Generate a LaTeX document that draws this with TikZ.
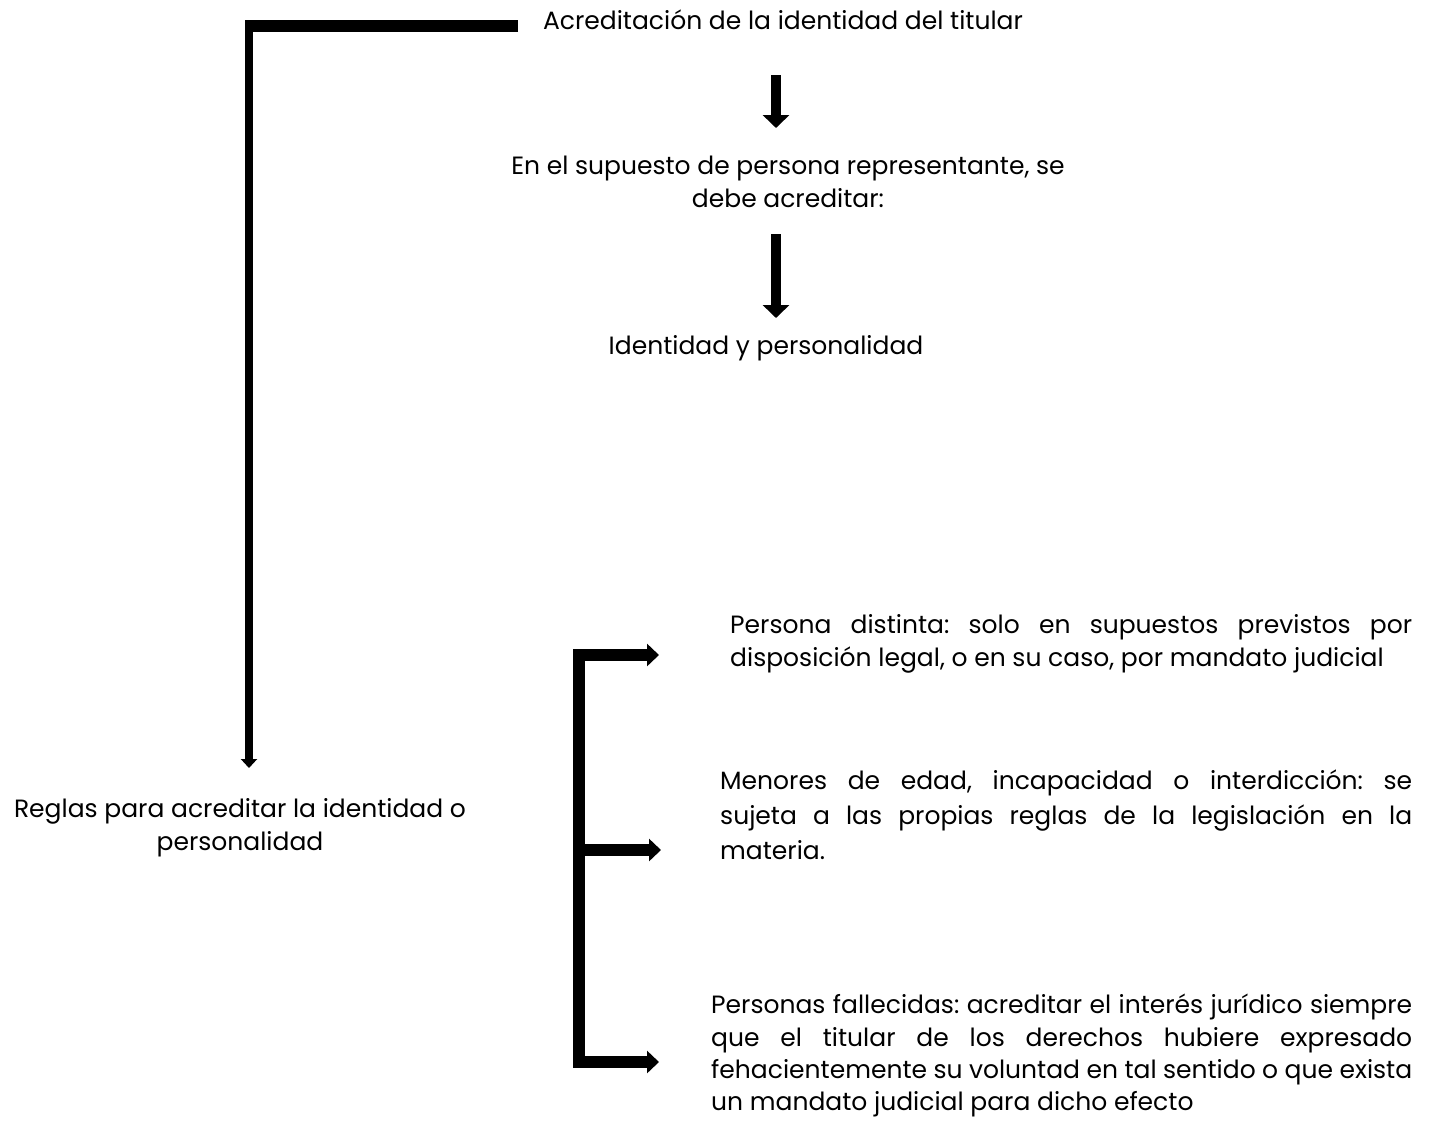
\documentclass[tikz,border=0pt]{standalone}
\usepackage{fontspec}
\setmainfont{Poppins}
\usetikzlibrary{arrows.meta}
\frenchspacing
\begin{document}
\begin{tikzpicture}[x=1pt,y=-1pt,
  txt/.style={inner sep=0pt,font=\fontsize{25}{33}\selectfont},
  para/.style={txt,align=justify,anchor=north west},
  bar/.style={line width=#1},
  bigarrow/.style={line width=10pt,-{Triangle[width=26pt,length=13pt]}},
  brarrow/.style={line width=12pt,-{Triangle[width=22pt,length=12pt]}},
  thinarrow/.style={line width=8.5pt,-{Triangle[width=16pt,length=9pt]}}]
\useasboundingbox (0,0) rectangle (1437,1120);
% top column
\node[txt] (acr) at (783,20) {Acreditación de la identidad del titular};
\node[txt,align=center] (sup) at (788,182) {En el supuesto de persona representante, se\\debe acreditar:};
\node[txt] (idp) at (766,348) {Identidad y personalidad};
\coordinate (a1s) at (776,75);
\coordinate (a1e) at (776,128);
\coordinate (a2s) at (776,234);
\coordinate (a2e) at (776,318);
\draw[bigarrow] (a1s) -- (a1e);
\draw[bigarrow] (a2s) -- (a2e);
% left rule
\node[txt,align=center] (reg) at (240,828) {Reglas para acreditar la identidad o\\personalidad};
\coordinate (h0) at (518,26);
\coordinate (corner) at (249,26);
\coordinate (regtip) at (249,768);
\draw[bar=12pt] (h0) -- ([xshift=-4.5pt]corner);
\draw[thinarrow] ([yshift=-6pt]corner) -- (regtip);
% bracket
\coordinate (bt) at (579,655);
\coordinate (bm) at (579,850);
\coordinate (bb) at (579,1062);
\draw[bar=12pt] ([yshift=-6pt]bt) -- ([yshift=6pt]bb);
\coordinate (t1) at (659,655);
\coordinate (t2) at (661,850);
\coordinate (t3) at (659,1062);
\draw[brarrow] ([xshift=-6pt]bt) -- (t1);
\draw[brarrow] ([xshift=-6pt]bm) -- (t2);
\draw[brarrow] ([xshift=-6pt]bb) -- (t3);
% right texts
\node[para,text width=682pt] (p1) at (730,614) {Persona distinta: solo en supuestos previstos por\linebreak disposición legal, o en su caso, por mandato judicial};
\node[para,text width=692pt,font=\fontsize{25}{35}\selectfont] (p2) at (720,770) {Menores de edad, incapacidad o interdicción: se\linebreak sujeta a las propias reglas de la legislación en la\linebreak materia.};
\node[para,text width=701pt,font=\fontsize{25}{32.4}\selectfont] (p3) at (711,994) {Personas fallecidas: acreditar el interés jurídico siempre\linebreak que el titular de los derechos hubiere expresado\linebreak fehacientemente su voluntad en tal sentido o que exista\linebreak un mandato judicial para dicho efecto};
\end{tikzpicture}
\end{document}
